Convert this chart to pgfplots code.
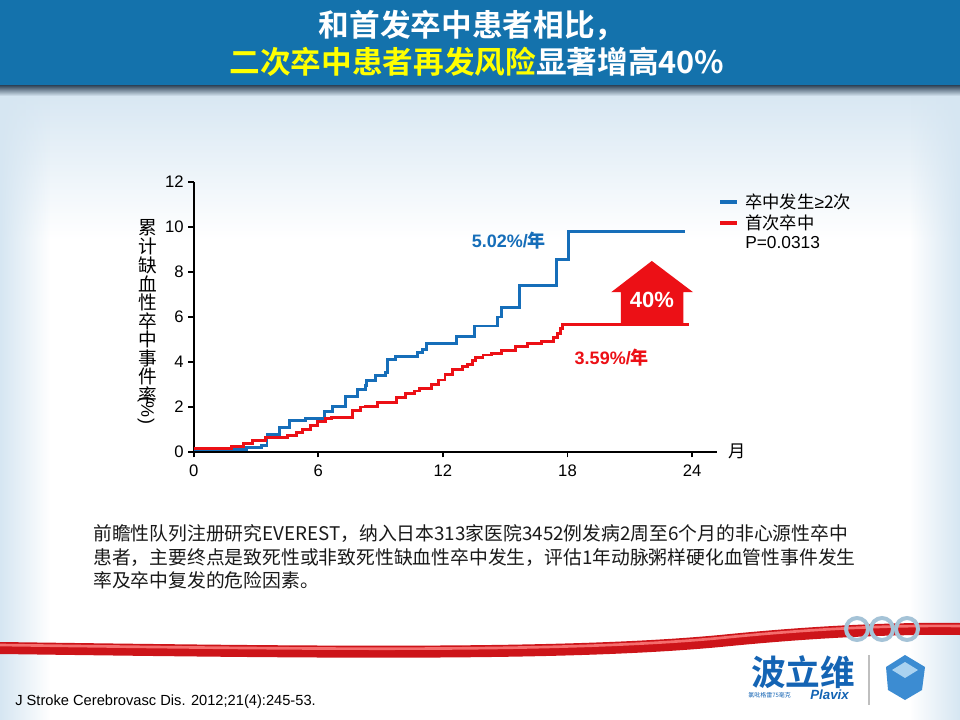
\documentclass[border=0pt]{standalone}
\usepackage{pgfplots}
\pgfplotsset{compat=1.18}
\usetikzlibrary{fadings}
\usepackage{fontspec}
\setmainfont{Liberation Sans}
\newfontfamily\cjk{Noto Sans CJK SC}
\newfontfamily\cjkb{Noto Sans CJK SC Bold}
\definecolor{kmblue}{RGB}{22,110,185}
\definecolor{kmred}{RGB}{236,16,22}
\definecolor{banner}{RGB}{20,114,172}
\definecolor{tyellow}{RGB}{255,255,0}
\definecolor{edge}{RGB}{214,230,242}
\definecolor{logoblue}{RGB}{20,100,180}
\definecolor{bodytext}{RGB}{25,25,25}
\definecolor{shadow}{RGB}{60,80,100}
\definecolor{band}{RGB}{205,20,25}
\definecolor{bandhi}{RGB}{245,110,110}
\definecolor{ring}{RGB}{165,195,215}
\definecolor{cubeA}{RGB}{60,140,210}
\definecolor{cubeB}{RGB}{170,210,240}
\begin{document}
\begin{tikzpicture}[x=0.75pt,y=-0.75pt]
\useasboundingbox (0,0) rectangle (960,720);
% background
\fill[white] (0,0) rectangle (960,720);
\shade[top color=edge, bottom color=white] (0,88) rectangle (960,240);
\fill[edge, path fading=east] (0,88) rectangle (50,720);
\fill[edge, path fading=west] (910,88) rectangle (960,720);
% banner
\fill[banner] (0,0) rectangle (960,86);
\shade[top color=shadow, bottom color=edge] (0,86) rectangle (960,96);
\node[font=\cjkb\fontsize{23}{28}\selectfont, text=white] at (472,25) {和首发卒中患者相比，};
\node[font=\cjkb\fontsize{23}{28}\selectfont, text=white] at (477,62) {{\color{tyellow}二次卒中患者再发风险}显著增高40\%};
% red band decoration
\draw[line width=9pt, band] (0,648) .. controls (300,652) and (560,656) .. (720,641) .. controls (800,633) and (880,628) .. (960,629);
\draw[line width=2pt, bandhi] (0,645) .. controls (300,649) and (560,653) .. (720,638) .. controls (800,630) and (880,625) .. (960,626);
\foreach \cx in {857,882,907} \draw[line width=3pt, ring] (\cx,629) circle (11);
% axis
\coordinate (O) at (193.7,452);
\begin{axis}[
  at={(O)}, anchor=south west, scale only axis,
  width=392.5pt, height=202.5pt,
  xmin=0, xmax=25.2, ymin=0, ymax=12,
  axis x line=bottom, axis y line=left,
  axis line style={-, line width=1.6pt, black},
  xtick={0,6,12,18,24}, ytick={0,2,4,6,8,10,12},
  tick align=outside, major tick length=4pt,
  every tick/.style={black, line width=1.4pt},
  tick label style={font=\fontsize{12.5}{14}\selectfont},
  xticklabel style={yshift=-2pt},
  /pgf/number format/assume math mode=true,
  clip=false,
]
\addplot[const plot, kmblue, line width=2.2pt] coordinates {
(0,0.1) (2.55,0.2) (3.25,0.3) (3.53,0.78) (4.15,1.07) (4.62,1.38) (5.4,1.5)
(6.3,1.8) (6.68,2.03) (7.3,2.47) (7.88,2.76) (8.26,2.95) (8.34,3.19) (8.76,3.38)
(9.24,3.52) (9.35,4.13) (9.7,4.25) (10.78,4.43) (11.03,4.55) (11.21,4.82)
(12.65,5.15) (13.52,5.6) (14.63,6.0) (14.84,6.41) (15.67,7.42) (17.45,8.55)
(18.04,9.82) (23.67,9.82)};
\addplot[const plot, kmred, line width=2.2pt] coordinates {
(0,0.15) (1.82,0.24) (2.4,0.38) (2.82,0.52) (3.46,0.66) (4.5,0.75) (4.97,0.85)
(5.23,1.02) (5.62,1.19) (5.98,1.37) (6.35,1.48) (6.63,1.55) (7.63,1.85) (8.04,2.0)
(8.29,2.04) (8.87,2.22) (9.78,2.41) (10.2,2.59) (10.61,2.71) (10.86,2.83)
(11.44,3.01) (11.77,3.2) (12.1,3.46) (12.44,3.65) (12.94,3.79) (13.18,3.9)
(13.43,4.05) (13.57,4.2) (13.93,4.31) (14.35,4.38) (14.84,4.53) (15.5,4.68)
(16.09,4.83) (16.75,4.92) (17.33,5.1) (17.5,5.25) (17.66,5.47) (17.74,5.65)
(23.84,5.65)};
\node[kmblue, font=\bfseries\fontsize{13.5}{16}\selectfont] at (axis cs:15.18,9.38) {5.02\%/{\cjkb 年}};
\node[kmred, font=\bfseries\fontsize{13.5}{16}\selectfont] at (axis cs:20.13,4.2) {3.59\%/{\cjkb 年}};
\fill[kmred] (axis cs:20.57,5.65) -- (axis cs:20.57,7.10) -- (axis cs:20.1,7.10) -- (axis cs:22.06,8.49) -- (axis cs:24.05,7.10) -- (axis cs:23.58,7.10) -- (axis cs:23.58,5.65) -- cycle;
\node[white, font=\bfseries\fontsize{16.5}{19}\selectfont] at (axis cs:22.06,6.76) {40\%};
\end{axis}
\node[font=\cjk\fontsize{13}{15}\selectfont] at (737,451) {月};
% y label stacked
\foreach \c [count=\i from 0] in {累,计,缺,血,性,卒,中,事,件,率}
  \node[font=\cjk\fontsize{14}{15}\selectfont, inner sep=0pt] at (148,{228+18.6*\i}) {\c};
\node[rotate=-90, font=\fontsize{13.5}{15}\selectfont, inner sep=0pt] at (146,410) {(\%)};
% legend
\draw[kmblue, line width=3pt] (720,202) -- (737,202);
\node[anchor=west, font=\cjk\fontsize{13}{15}\selectfont, inner sep=0pt] at (745,202) {卒中发生{\normalfont ≥}2次};
\draw[kmred, line width=3pt] (720,223) -- (737,223);
\node[anchor=west, font=\cjk\fontsize{13}{15}\selectfont, inner sep=0pt] at (745,223) {首次卒中};
\node[anchor=west, font=\fontsize{13}{15}\selectfont, inner sep=0pt] at (745,243) {P=0.0313};
% body text
\begin{scope}[every node/.style={anchor=base west, font=\cjk\fontsize{14.1}{17}\selectfont, text=bodytext, inner sep=0pt}]
\node at (93,540) {前瞻性队列注册研究EVEREST，纳入日本313家医院3452例发病2周至6个月的非心源性卒中};
\node at (93,564) {患者，主要终点是致死性或非致死性缺血性卒中发生，评估1年动脉粥样硬化血管性事件发生};
\node at (93,587) {率及卒中复发的危险因素。};
\end{scope}
% citation
\node[anchor=base west, font=\fontsize{11}{13}\selectfont, inner sep=0pt] at (15,705) {J Stroke Cerebrovasc Dis. 2012;21(4):245-53.};
% logo
\node[font=\cjkb\fontsize{26}{30}\selectfont, text=logoblue, inner sep=0pt] at (803,672) {波立维};
\node[font=\cjk\fontsize{4.5}{5}\selectfont, text=logoblue, inner sep=0pt, anchor=west] at (748,695) {氯吡格雷75毫克};
\node[font=\bfseries\itshape\fontsize{10}{12}\selectfont, text=logoblue, inner sep=0pt, anchor=west] at (810,695) {Plavix};
\draw[gray!50, line width=0.8pt] (869,655) -- (869,705);
\fill[cubeA] (905,655) -- (925,667) -- (922,690) -- (905,700) -- (888,690) -- (886,667) -- cycle;
\fill[cubeB] (905,662) -- (918,670) -- (905,678) -- (892,670) -- cycle;
\end{tikzpicture}
\end{document}
